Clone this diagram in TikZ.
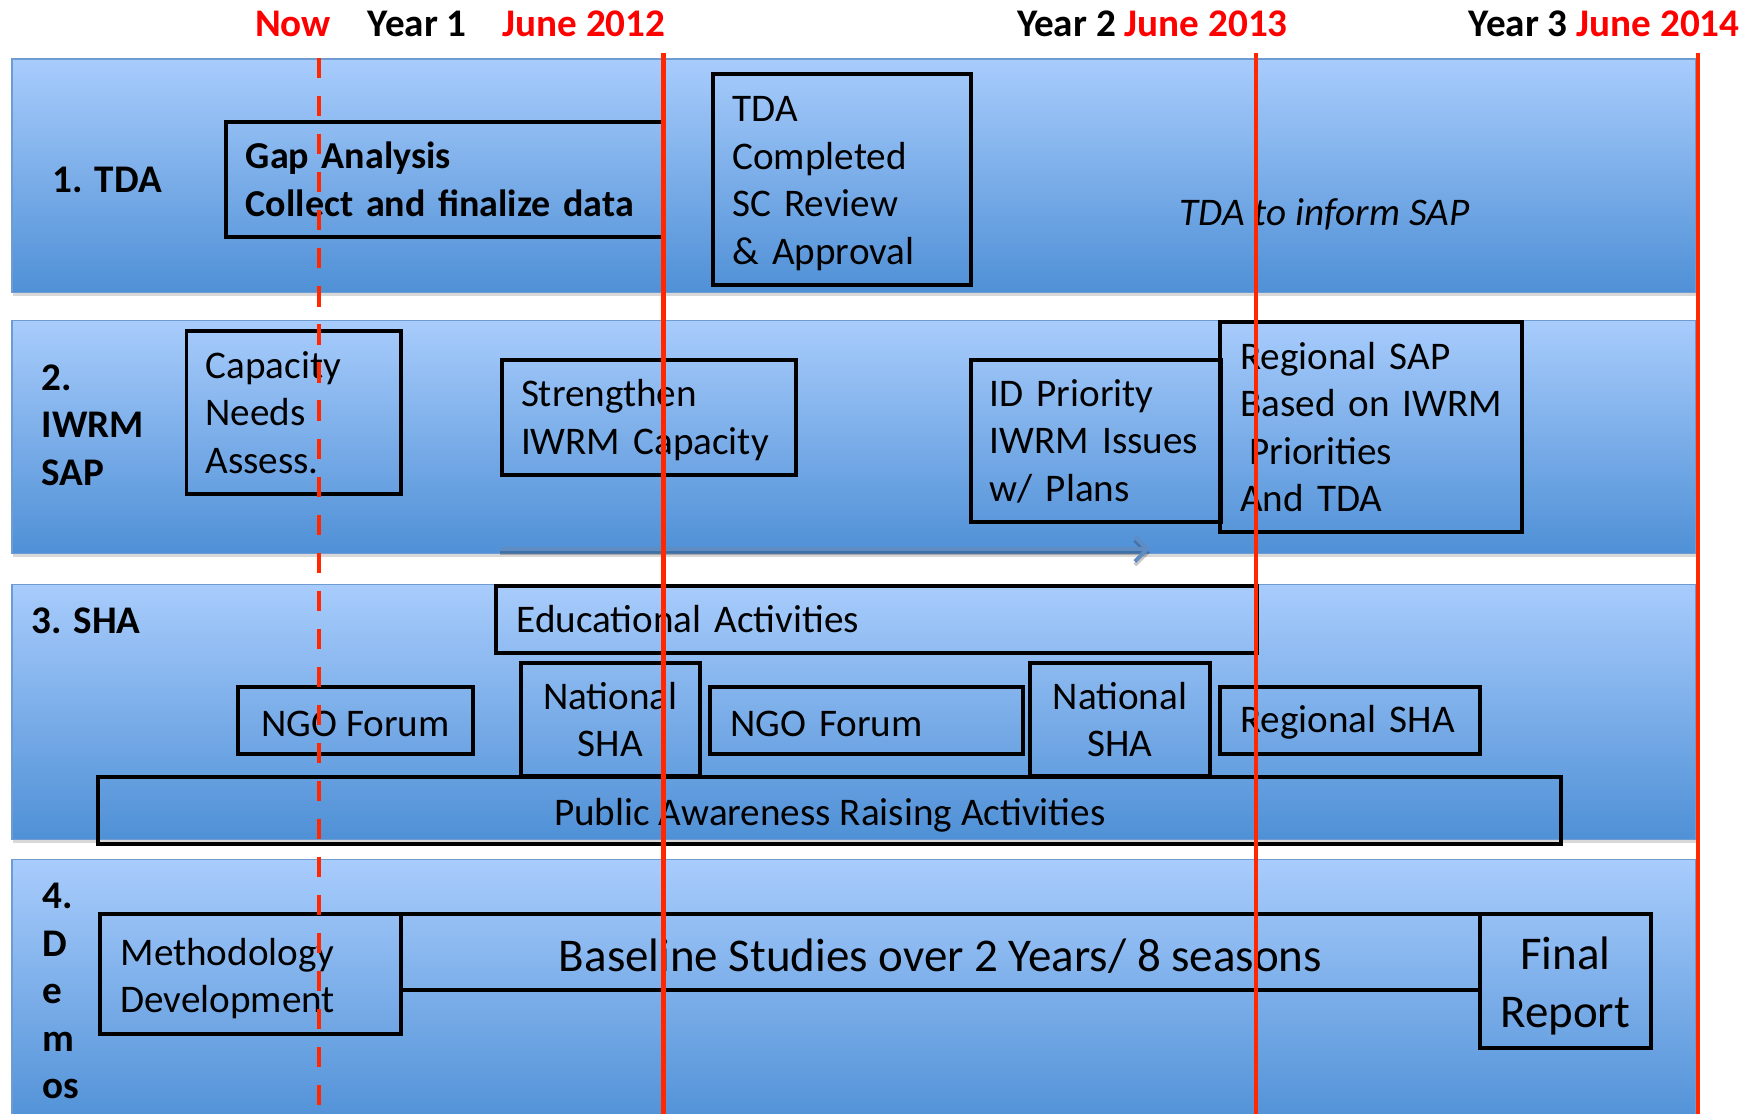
\documentclass[tikz,border=0pt]{standalone}
\usepackage{fontspec}
\setmainfont{Carlito}
\usetikzlibrary{arrows.meta,shadows}
\definecolor{bandtop}{RGB}{168,204,252}
\definecolor{bandbot}{RGB}{79,144,214}
\definecolor{bandline}{RGB}{110,155,210}
\definecolor{redline}{RGB}{255,40,0}
\definecolor{redtext}{RGB}{255,0,0}
\definecolor{arrowblue}{RGB}{96,140,196}
\newcommand{\boxfont}{\fontsize{35}{42.5}\selectfont}
\newcommand{\boldboxfont}{\fontsize{34}{42.5}\selectfont\bfseries}
\newcommand{\bigboxfont}{\fontsize{42}{52}\selectfont}
\begin{document}
\begin{tikzpicture}[x=1pt,y=-1pt,
  band/.style={top color=bandtop,bottom color=bandbot,draw=bandline,line width=1.2pt,
    drop shadow={shadow xshift=1pt,shadow yshift=-3pt,opacity=0.3},
    inner sep=0pt,anchor=north west,minimum width=1505pt},
  tbox/.style={draw=black,line width=3.5pt,inner sep=0pt,font=\boxfont,anchor=north west},
  lbox/.style={tbox,align=left,inner xsep=18pt},
  cbox/.style={tbox,align=center},
  lab/.style={font=\boxfont\bfseries,align=left,anchor=west,inner sep=0pt},
  hdr/.style={font=\boxfont\bfseries,anchor=base,inner sep=0pt},
  redl/.style={draw=redline,line width=4pt},
  flow/.style={draw=arrowblue,line width=3.5pt,
    -{Straight Barb[length=11pt,width=22pt,line width=3.5pt]},
    preaction={draw=black,draw opacity=0.22,line width=3.5pt,transform canvas={yshift=-3pt},
      -{Straight Barb[length=11pt,width=22pt,line width=3.5pt]}}}
]
\useasboundingbox (0,0) rectangle (1568,995);
\fill[white] (0,0) rectangle (1568,995);

% bands
\node[band,minimum height=209pt] (b1) at (10,52) {};
\node[band,minimum height=208pt] (b2) at (10,286) {};
\node[band,minimum height=228pt] (b3) at (10,522) {};
\node[band,minimum height=240pt] (b4) at (10,768) {};

% header
\node[hdr,text=redtext] (hnow) at (262,33) {Now};
\node[hdr] (hy1) at (373,33) {Year 1};
\node[hdr,text=redtext] (hj12) at (522,33) {June 2012};
\node[hdr,anchor=base west] (hy2) at (909,33) {Year 2 \textcolor{redtext}{June 2013}};
\node[hdr,anchor=base west] (hy3) at (1313,33) {Year 3 \textcolor{redtext}{June 2014}};

% row labels
\node[lab] (l1) at (47,161) {1. TDA};
\node[lab] (l2) at (37,380) {2.\\IWRM\\SAP};
\node[lab] (l3) at (28,555) {3. SHA};
\node[lab] (l4) at (38,886) {4.\\D\\e\\m\\os};

% arrow in band 2
\coordinate (arrS) at (447,491);
\coordinate (arrE) at (1028,491);
\draw[flow] (arrS) -- (arrE);

% band 1
\node[lbox,font=\boldboxfont,minimum width=391pt,text width=355pt,minimum height=103pt] (gap) at (200,107)
  {\mbox{Gap Analysis}\\\mbox{Collect and finalize data}};
\node[lbox,inner xsep=17pt,minimum width=230pt,text width=196pt,minimum height=189pt] (tda) at (636,64)
  {\rule{0pt}{30pt}TDA\\Completed\\\mbox{SC Review}\\\mbox{\& Approval}};
\node[font=\boxfont\itshape,inner sep=0pt] (inf) at (1184,192) {TDA to inform SAP};

% band 2
\node[lbox,inner xsep=17pt,minimum width=192pt,text width=158pt,minimum height=146pt] (cap) at (165,294)
  {Capacity\\Needs\\Assess.};
\node[lbox,inner xsep=17pt,minimum width=263pt,text width=229pt,minimum height=103pt] (str) at (447,320)
  {\rule{0pt}{29pt}Strengthen\\\mbox{IWRM Capacity}};
\node[lbox,inner xsep=17pt,minimum width=224pt,text width=190pt,minimum height=145pt] (idp) at (866,320)
  {\mbox{ID Priority}\\\mbox{IWRM Issues}\\\mbox{w/ Plans}};
\node[lbox,minimum width=270pt,text width=234pt,minimum height=188pt] (rsap) at (1089,286)
  {\mbox{Regional SAP}\\\mbox{Based on IWRM}\\\hspace*{8pt}Priorities\\\mbox{And TDA}};

% band 3
\node[lbox,minimum width=680pt,text width=644pt,minimum height=60pt] (edu) at (442,522)
  {\mbox{Educational Activities}};
\node[cbox,minimum width=210pt,minimum height=60pt] (ngo1) at (211,612) {\rule{0pt}{29pt}NGO Forum};
\node[cbox,minimum width=160pt,minimum height=101pt] (nat1) at (464,591) {National\\SHA};
\node[lbox,minimum width=280pt,text width=244pt,minimum height=60pt] (ngo2) at (633,612) {\rule{0pt}{29pt}\mbox{NGO Forum}};
\node[cbox,minimum width=161pt,minimum height=101pt] (nat2) at (919,591) {National\\SHA};
\node[lbox,minimum width=232pt,text width=196pt,minimum height=60pt] (rsha) at (1089,612) {\rule{0pt}{29pt}\mbox{Regional SHA}};
\node[cbox,minimum width=1308pt,minimum height=60pt] (pub) at (86,693) {\rule{0pt}{32pt}Public Awareness Raising Activities};

% band 4
\node[lbox,minimum width=269pt,text width=233pt,minimum height=108pt] (meth) at (88,815)
  {\rule{0pt}{32pt}Methodology\\Development};
\node[cbox,font=\bigboxfont,minimum width=964pt,minimum height=68pt] (base) at (357,815)
  {\rule{0pt}{38pt}Baseline Studies over 2 Years/ 8 seasons};
\node[cbox,font=\bigboxfont,minimum width=153pt,minimum height=120pt] (final) at (1321,815)
  {\rule{0pt}{38pt}Final\\Report};

% time lines
\coordinate (nowT) at (285,52);
\coordinate (nowB) at (285,1000);
\coordinate (y1T) at (593,47);
\coordinate (y1B) at (593,1000);
\coordinate (y2T) at (1123,47);
\coordinate (y2B) at (1123,1000);
\coordinate (y3T) at (1518,47);
\coordinate (y3B) at (1518,1000);
\draw[redl,dash pattern=on 18pt off 16pt] (nowT) -- (nowB);
\draw[redl] (y1T) -- (y1B);
\draw[redl] (y2T) -- (y2B);
\draw[redl] (y3T) -- (y3B);
\end{tikzpicture}
\end{document}
